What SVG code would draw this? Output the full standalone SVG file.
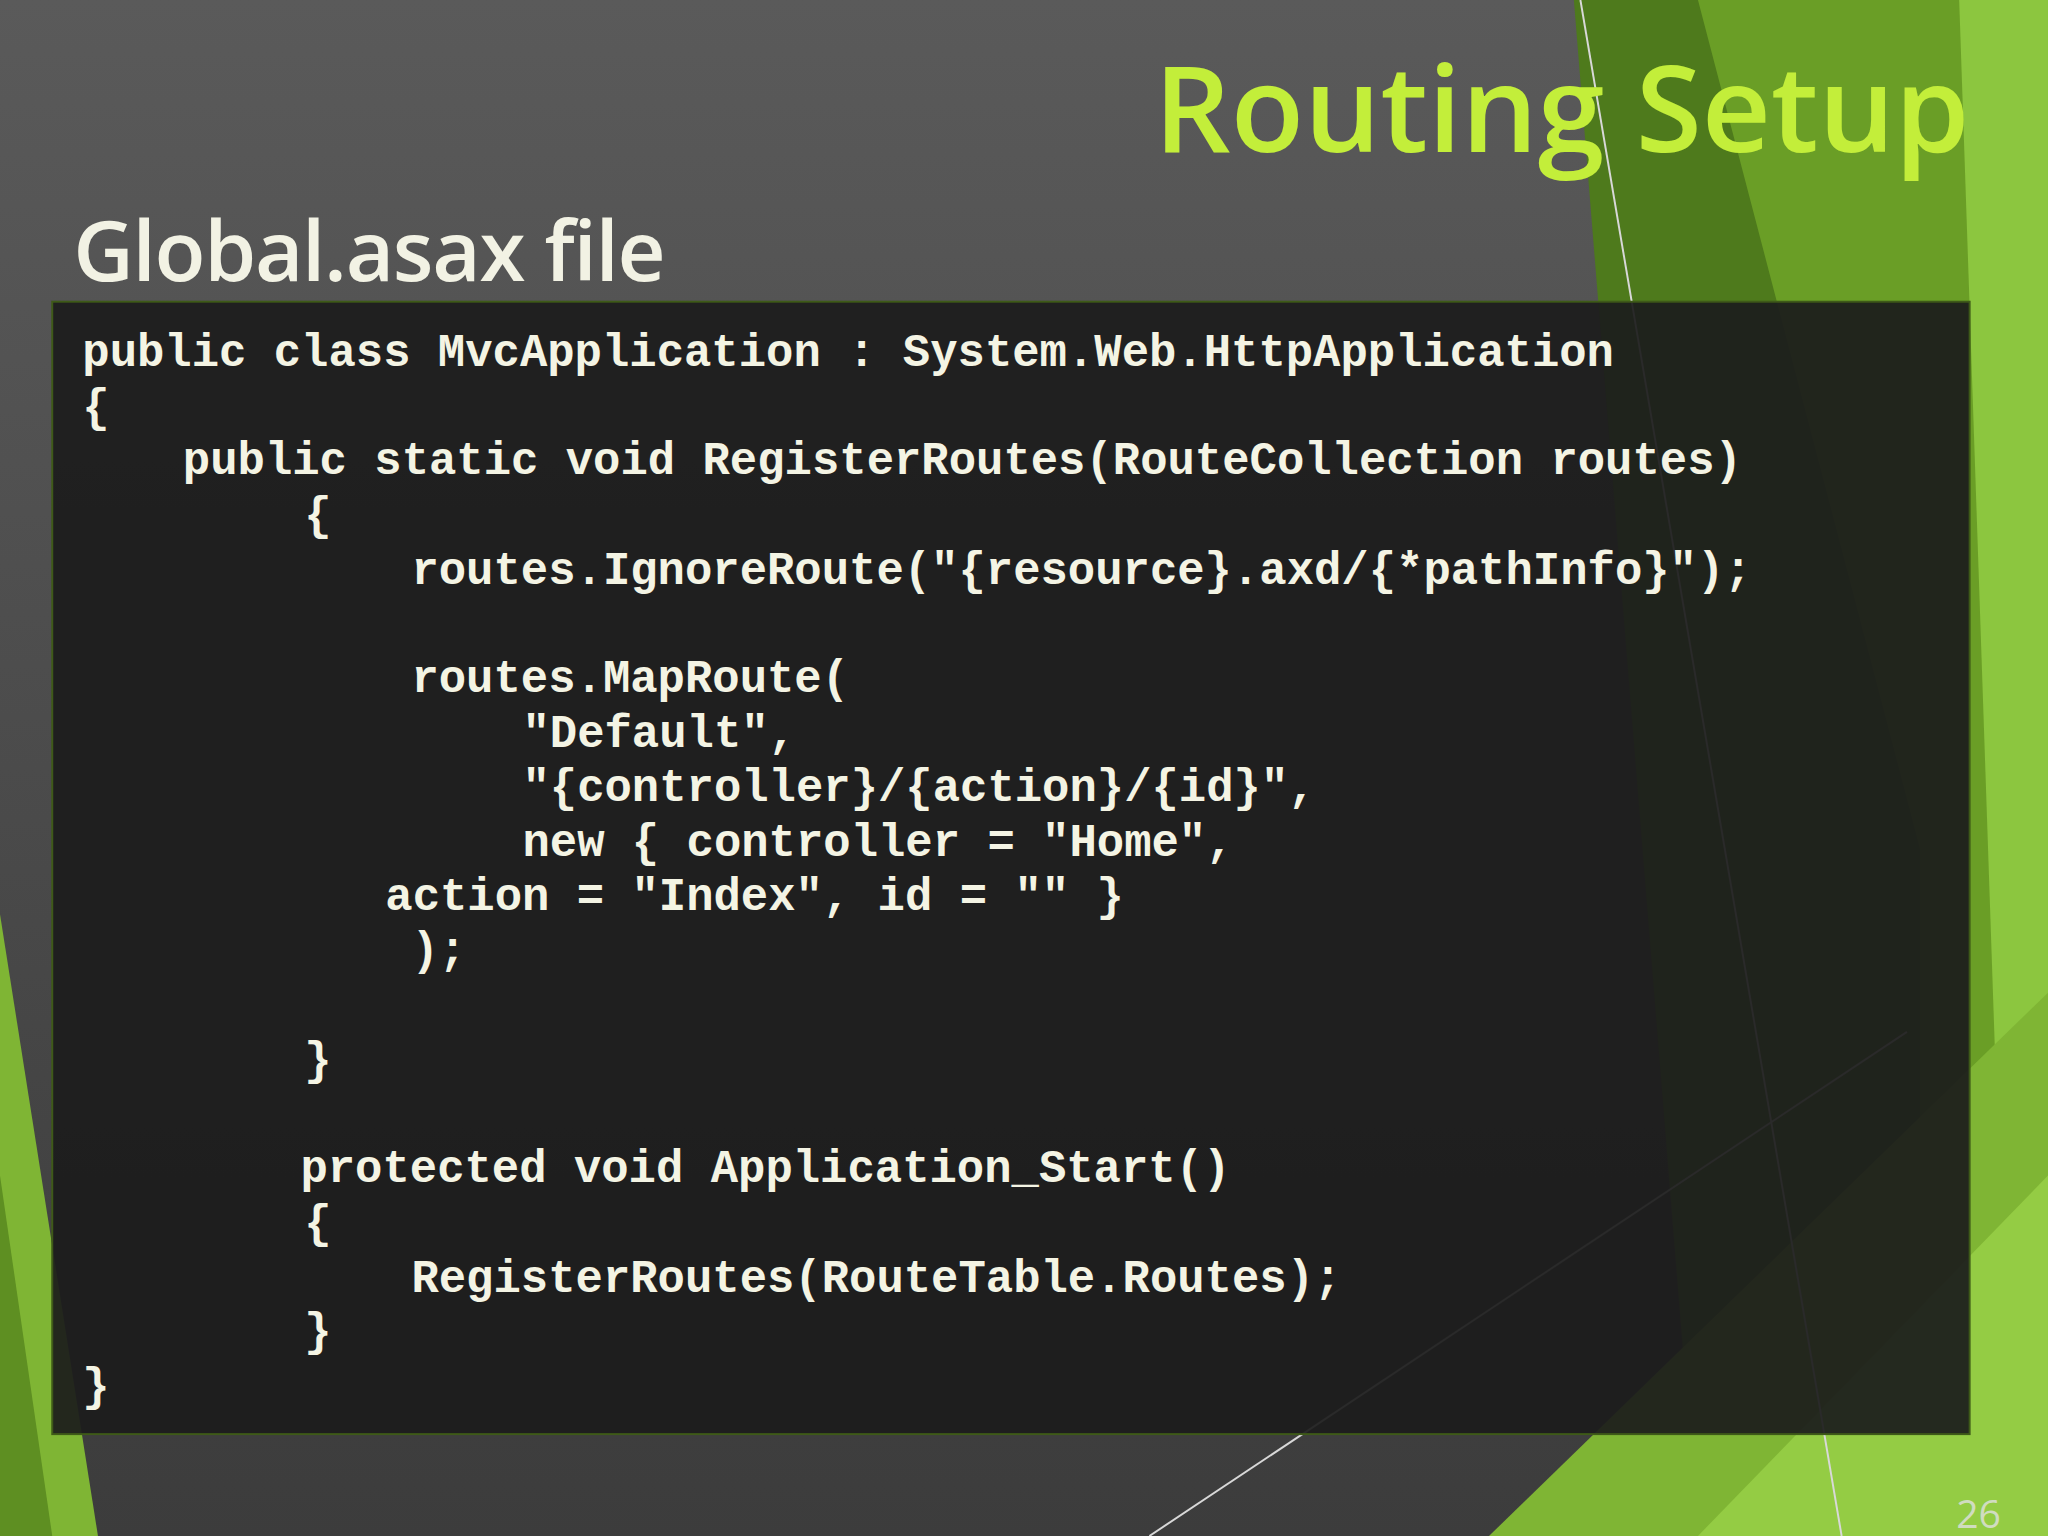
<svg xmlns="http://www.w3.org/2000/svg" width="2048" height="1536" viewBox="0 0 2048 1536">
<defs>
<linearGradient id="bg" x1="0" y1="0" x2="0" y2="1">
<stop offset="0" stop-color="#5a5a5a"/><stop offset="1" stop-color="#3c3c3c"/>
</linearGradient>
<style>
.code{font-family:"Liberation Mono",monospace;font-weight:bold;font-size:34.9px;fill:#f4f4e4}
</style>
</defs>
<g transform="scale(1.306122)">
<rect width="1568" height="1176" fill="url(#bg)"/>
<polygon points="1205,0 1568,0 1568,1176 1300,1176" fill="#4e7a1c"/>
<polygon points="1300,0 1568,0 1568,1176 1470,1176 1470,650" fill="#6a9e26"/>
<polygon points="1500,0 1568,0 1568,1176 1540,1176" fill="#8cc63f"/>
<polygon points="1140,1176 1568,760 1568,1176" fill="#7fb534"/>
<polygon points="1300,1176 1568,900 1568,1176" fill="#94cc44"/>
<polygon points="0,700 75,1176 0,1176" fill="#7fb534"/>
<polygon points="0,900 40,1176 0,1176" fill="#5e8f22"/>
<line x1="1210" y1="0" x2="1410" y2="1176" stroke="#d8d8d8" stroke-width="1.5"/>
<line x1="880" y1="1176" x2="1460" y2="790" stroke="#d8d8d8" stroke-width="1.5"/>
<g id="title"><text x="1508" y="116" text-anchor="end" font-family="Open Sans, sans-serif" font-weight="600" font-size="92" fill="#c3ee3a">Routing Setup</text></g>
<g id="subtitle"><text x="56" y="215" font-family="Open Sans, sans-serif" font-weight="600" font-size="64" fill="#f2f2e4" letter-spacing="-1">Global.asax file</text></g>
<g id="codebox">
<rect x="40" y="231" width="1468" height="867" fill="#1c1c1c" fill-opacity="0.93" stroke="#3e5a18" stroke-width="1.5"/>
<text class="code" x="63" y="280">public class MvcApplication : System.Web.HttpApplication</text>
<text class="code" x="63" y="322">{</text>
<text class="code" x="140" y="363">public static void RegisterRoutes(RouteCollection routes)</text>
<text class="code" x="233" y="405">{</text>
<text class="code" x="315" y="447">routes.IgnoreRoute("{resource}.axd/{*pathInfo}");</text>
<text class="code" x="315" y="530">routes.MapRoute(</text>
<text class="code" x="400" y="572">"Default",</text>
<text class="code" x="400" y="613">"{controller}/{action}/{id}",</text>
<text class="code" x="400" y="655">new { controller = "Home",</text>
<text class="code" x="295" y="697">action = "Index", id = "" }</text>
<text class="code" x="315" y="738">);</text>
<text class="code" x="233" y="822">}</text>
<text class="code" x="230" y="905">protected void Application_Start()</text>
<text class="code" x="233" y="947">{</text>
<text class="code" x="315" y="989">RegisterRoutes(RouteTable.Routes);</text>
<text class="code" x="233" y="1030">}</text>
<text class="code" x="63" y="1072">}</text>
</g>
<g id="pagenum"><text x="1532" y="1170" text-anchor="end" font-family="Open Sans, sans-serif" font-size="30" fill="#d0dcc0">26</text></g>
</g>
</svg>
